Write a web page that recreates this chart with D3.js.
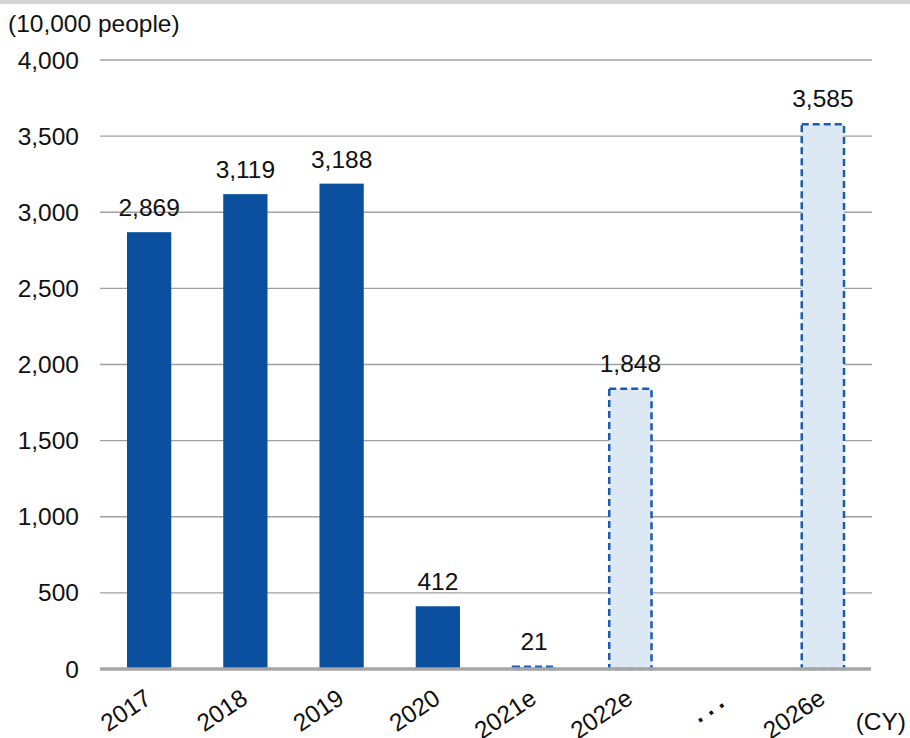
<!DOCTYPE html>
<html>
<head>
<meta charset="utf-8">
<script src="https://cdn.jsdelivr.net/npm/d3@7"></script>
<style>
  body { margin: 0; background: #fff; }
  svg { display: block; font-family: Arial, "Liberation Sans", sans-serif; }
</style>
</head>
<body>
<div id="chart"></div>
<script>
// ==================== données ====================//
const categories = ["2017", "2018", "2019", "2020", "2021e", "2022e", "...", "2026e"];
const visitors = [2869, 3119, 3188, 412, 21, 1848, null, 3585];
const estimated = [false, false, false, false, true, true, false, true];
const yTicks = [0, 500, 1000, 1500, 2000, 2500, 3000, 3500, 4000];

const width = 910;
const height = 738;
const fontSize = 24.5;

const svg = d3.select("#chart")
    .append("svg")
    .attr("width", width)
    .attr("height", height);

// bandeau gris en haut
svg.append("rect")
    .attr("x", 0).attr("y", 0)
    .attr("width", width).attr("height", 4)
    .attr("fill", "#d3d3d3");

const x = d3.scaleBand()
    .domain(categories)
    .range([101, 871])
    .paddingInner(0.54)
    .paddingOuter(0.27);

const y = d3.scaleLinear()
    .domain([0, 4000])
    .range([669, 60]);

// grille
svg.append("g")
    .selectAll("line")
    .data(yTicks.filter(d => d > 0))
    .join("line")
    .attr("x1", 100)
    .attr("x2", 872)
    .attr("y1", d => y(d))
    .attr("y2", d => y(d))
    .attr("stroke", "#a0a0a0")
    .attr("stroke-width", 1.3);

// labels axe Y
svg.append("g")
    .selectAll("text")
    .data(yTicks)
    .join("text")
    .attr("x", 79)
    .attr("y", d => y(d) + 8.5)
    .attr("text-anchor", "end")
    .attr("font-size", fontSize)
    .attr("fill", "#111")
    .text(d => d3.format(",")(d));

svg.append("text")
    .attr("x", 8)
    .attr("y", 32)
    .attr("font-size", fontSize)
    .attr("fill", "#111")
    .text("(10,000 people)");

// barres
const rows = categories.map((c, i) => ({ cat: c, value: visitors[i], est: estimated[i] }))
    .filter(d => d.value !== null);

svg.append("g")
    .selectAll("rect")
    .data(rows)
    .join("rect")
    .attr("x", d => x(d.cat) + (d.est ? 1 : 0))
    .attr("y", d => y(d.value) + (d.est ? 1 : 0))
    .attr("width", d => x.bandwidth() - (d.est ? 2 : 0))
    .attr("height", d => y(0) - y(d.value) - (d.est ? 1 : 0))
    .attr("fill", d => d.est ? "#dde8f5" : "#0a509e")
    .attr("stroke", d => d.est ? "#1a5cb0" : "none")
    .attr("stroke-width", 2.5)
    .attr("stroke-dasharray", d => d.est ? "7,4" : null);

// axe (ligne de base)
svg.append("line")
    .attr("x1", 100)
    .attr("x2", 871)
    .attr("y1", y(0))
    .attr("y2", y(0))
    .attr("stroke", "#a6a6a6")
    .attr("stroke-width", 3.5);

// valeurs
svg.append("g")
    .selectAll("text")
    .data(rows)
    .join("text")
    .attr("x", d => x(d.cat) + x.bandwidth() / 2)
    .attr("y", d => y(d.value) - 16)
    .attr("text-anchor", "middle")
    .attr("font-size", fontSize)
    .attr("fill", "#111")
    .text(d => d3.format(",")(d.value));

// labels axe X (inclinés)
svg.append("g")
    .selectAll("text")
    .data(categories)
    .join("text")
    .attr("transform", d => `translate(${x(d) + x.bandwidth() / 2 + 4},${702}) rotate(-34)`)
    .attr("text-anchor", "end")
    .attr("font-size", fontSize)
    .attr("letter-spacing", d => d === "..." ? 6 : 0)
    .attr("font-weight", d => d === "..." ? "bold" : null)
    .attr("fill", "#111")
    .text(d => d);

svg.append("text")
    .attr("x", 906)
    .attr("y", 730)
    .attr("text-anchor", "end")
    .attr("font-size", fontSize)
    .attr("fill", "#111")
    .text("(CY)");
</script>
</body>
</html>
